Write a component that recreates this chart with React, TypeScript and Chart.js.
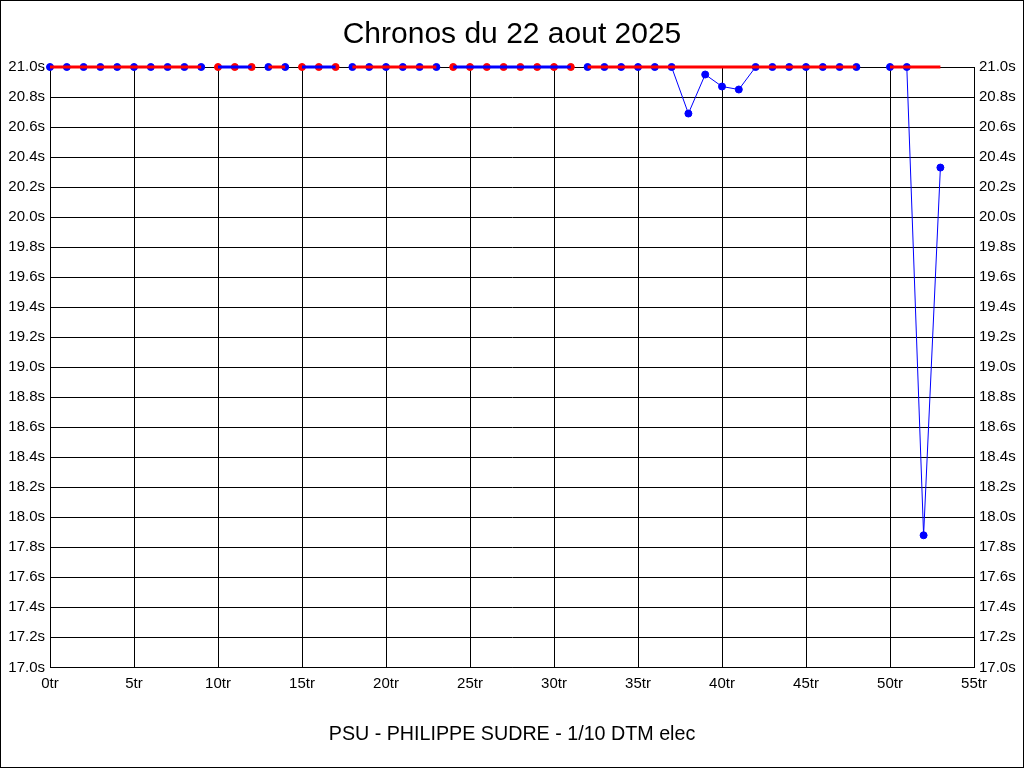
import React, { useEffect, useRef } from "react";
import { Chart, registerables } from "chart.js";

Chart.register(...registerables);

// Lap times in seconds, index = lap number (values at 21.0 are clipped at the top of the scale)
const lapTimes: (number | null)[] = [
  21.0, 21.0, 21.0, 21.0, 21.0, 21.0, 21.0, 21.0, 21.0, 21.0, // 0-9
  21.0, 21.0, 21.0, 21.0, 21.0, 21.0, 21.0, 21.0, 21.0, 21.0, // 10-19
  21.0, 21.0, 21.0, 21.0, 21.0, 21.0, 21.0, 21.0, 21.0, 21.0, // 20-29
  21.0, 21.0, 21.0, 21.0, 21.0, 21.0, 21.0, 21.0, 20.69, 20.95, // 30-39
  20.87, 20.85, 21.0, 21.0, 21.0, 21.0, 21.0, 21.0, 21.0, null, // 40-49
  21.0, 21.0, 17.88, 20.33, // 50-53
];

// First lap of each run (runs alternate colours)
const runStarts: number[] = [0, 10, 13, 15, 18, 24, 32, 49, 50];
const lastLap = 53;

// Reference time line drawn over each run
const referenceTime = 21.0;

const yMin = 17.0;
const yMax = 21.0;
const yStep = 0.2;
const xMin = 0;
const xMax = 55;
const xStep = 5;

const title = "Chronos du 22 aout 2025";
const footer = "PSU - PHILIPPE SUDRE - 1/10 DTM elec";

const RED = "#ff0000";
const BLUE = "#0000ff";
const FONT = "'Liberation Sans', Arial, sans-serif";

export default function App() {
  const ref = useRef<HTMLCanvasElement | null>(null);

  useEffect(() => {
    if (!ref.current) return;
    document.body.style.margin = "0";

    const datasets: any[] = [];
    runStarts.forEach((start, i) => {
      const end = i + 1 < runStarts.length ? runStarts[i + 1] - 1 : lastLap;
      const even = i % 2 === 0;
      const lineColor = even ? RED : BLUE;
      const pointColor = even ? BLUE : RED;
      const laps: number[] = [];
      for (let l = start; l <= end; l++) if (lapTimes[l] !== null) laps.push(l);
      if (laps.length === 0) return;
      // thick reference line (on top)
      datasets.push({
        label: "ref" + i,
        data: laps.map((l) => ({ x: l, y: referenceTime })),
        showLine: true,
        borderColor: lineColor,
        backgroundColor: lineColor,
        borderWidth: 3,
        pointRadius: 0,
        order: 0,
        clip: false,
        tension: 0,
      });
      // lap times (below)
      datasets.push({
        label: "laps" + i,
        data: laps.map((l) => ({ x: l, y: lapTimes[l] })),
        showLine: true,
        borderColor: pointColor,
        backgroundColor: pointColor,
        pointBackgroundColor: pointColor,
        pointBorderColor: pointColor,
        borderWidth: 1,
        pointRadius: 3.5,
        pointBorderWidth: 1,
        order: 1,
        clip: false,
        tension: 0,
      });
    });

    const frame = {
      id: "frame",
      beforeDraw(chart: any) {
        const c = chart.ctx;
        c.save();
        c.fillStyle = "#ffffff";
        c.fillRect(0, 0, chart.width, chart.height);
        c.restore();
      },
      afterDraw(chart: any) {
        const c = chart.ctx;
        c.save();
        c.strokeStyle = "#000";
        c.lineWidth = 1;
        c.strokeRect(0.5, 0.5, chart.width - 1, chart.height - 1);
        c.restore();
      },
    };

    const yTicks = {
      color: "#000",
      font: { family: FONT, size: 15 },
      stepSize: yStep,
      autoSkip: false,
      padding: 5,
      callback: (v: any) => Number(v).toFixed(1) + "s",
    };

    const chart = new Chart(ref.current, {
      type: "scatter",
      data: { datasets },
      plugins: [frame],
      options: {
        animation: false,
        responsive: false,
        events: [],
        layout: { padding: 0 },
        plugins: {
          legend: { display: false },
          tooltip: { enabled: false },
          title: {
            display: true,
            text: title,
            color: "#000",
            font: { family: FONT, size: 30, weight: "normal", lineHeight: 1.2 },
            padding: { top: 17, bottom: 14 },
          },
          subtitle: {
            display: true,
            position: "bottom",
            text: footer,
            color: "#000",
            font: { family: FONT, size: 19.7, weight: "normal", lineHeight: 1.2 },
            padding: { top: 25, bottom: 22 },
          },
        },
        scales: {
          x: {
            type: "linear",
            min: xMin,
            max: xMax,
            grid: { color: "#000", lineWidth: 1, drawTicks: false },
            border: { color: "#000", width: 1 },
            ticks: {
              color: "#000",
              font: { family: FONT, size: 15 },
              stepSize: xStep,
              autoSkip: false,
              maxRotation: 0,
              padding: 7,
              callback: (v: any) => v + "tr",
            },
            afterFit: (s: any) => {
              s.height = 30;
            },
          },
          y: {
            type: "linear",
            position: "left",
            min: yMin,
            max: yMax,
            grid: { color: "#000", lineWidth: 1, drawTicks: false },
            border: { color: "#000", width: 1 },
            ticks: yTicks,
            afterFit: (s: any) => {
              s.width = 50;
            },
          },
          y2: {
            type: "linear",
            position: "right",
            min: yMin,
            max: yMax,
            grid: { display: false, drawTicks: false },
            border: { color: "#000", width: 1 },
            ticks: yTicks,
            afterFit: (s: any) => {
              s.width = 50;
            },
          },
        },
      } as any,
    });
    return () => chart.destroy();
  }, []);

  return (
    <div style={{ position: "absolute", left: 0, top: 0, width: 1024, height: 768 }}>
      <canvas ref={ref} width={1024} height={768} style={{ display: "block" }} />
    </div>
  );
}
